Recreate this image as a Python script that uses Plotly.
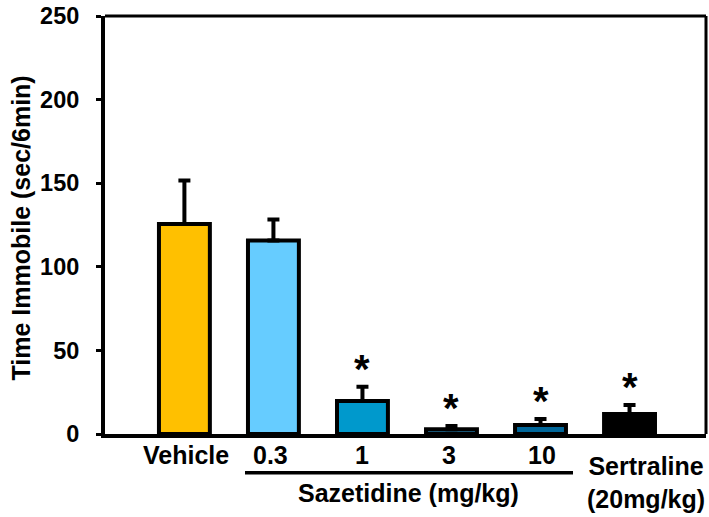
import plotly.graph_objects as go

categories = ["Vehicle", "0.3", "1", "3", "10", "Sertraline"]
means = [125.6, 115.7, 19.8, 2.8, 5.4, 12.0]
sems = [26.0, 12.6, 8.4, 2.0, 3.6, 5.4]
colors = ["#FFC000", "#66CCFF", "#0099CC", "#1F6F9A", "#006699", "#000000"]
significant = [False, False, True, True, True, True]
label_texts = ["Vehicle", "0.3", "1", "3", "10", "Sertraline<br>(20mg/kg)"]
label_offsets = [0.02, -0.03, -0.01, -0.03, 0.02, 0.19]
y_ticks = [0, 50, 100, 150, 200, 250]

W, H = 709, 517
L, R, T, B = 105, 3, 16, 83
pw = W - L - R
ph = H - T - B

def px2py(py):
    return (H - B - py) / ph

def px2px(px):
    return (px - L) / pw

FONT = "Liberation Sans, Arial, sans-serif"
xs = list(range(len(categories)))

fig = go.Figure()
fig.add_trace(go.Bar(
    x=xs, y=means, width=0.572,
    marker=dict(color=colors, line=dict(color="black", width=4)),
    error_y=dict(type="data", array=sems, arrayminus=[0]*len(sems), symmetric=False,
                 color="black", thickness=4, width=6),
    showlegend=False, hoverinfo="skip",
))

annotations = []
for i, (m, s, sig) in enumerate(zip(means, sems, significant)):
    if sig:
        annotations.append(dict(x=i, y=m + s, xref="x", yref="y", text="<b>*</b>",
                                showarrow=False, yanchor="middle", yshift=18,
                                font=dict(family=FONT, size=40, color="black")))
for i, (t, off) in enumerate(zip(label_texts, label_offsets)):
    if i == 5:
        annotations.append(dict(x=i + off, y=px2py(482), xref="x", yref="paper",
                                text="<b>" + t + "</b>", showarrow=False, yanchor="middle",
                                font=dict(family=FONT, size=25, color="black")))
    else:
        annotations.append(dict(x=i + off, y=px2py(455), xref="x", yref="paper",
                                text="<b>" + t + "</b>", showarrow=False, yanchor="middle",
                                font=dict(family=FONT, size=25, color="black")))
annotations.append(dict(x=px2px(408), y=px2py(493), xref="paper", yref="paper",
                        text="<b>Sazetidine (mg/kg)</b>", showarrow=False,
                        yanchor="middle", xanchor="center",
                        font=dict(family=FONT, size=25, color="black")))
annotations.append(dict(x=px2px(20), y=px2py(228.5), xref="paper", yref="paper",
                        text="<b>Time Immobile (sec/6min)</b>", showarrow=False,
                        textangle=-90, yanchor="middle", xanchor="center",
                        font=dict(family=FONT, size=25, color="black")))

shapes = [
    dict(type="line", xref="paper", yref="paper", x0=px2px(245), x1=px2px(573),
         y0=px2py(472.7), y1=px2py(472.7), line=dict(color="black", width=3.5)),
    dict(type="line", xref="paper", yref="paper", x0=0, x1=1, y0=1, y1=1,
         line=dict(color="black", width=3)),
    dict(type="line", xref="paper", yref="paper", x0=1, x1=1, y0=0, y1=1,
         line=dict(color="black", width=3)),
]

fig.update_layout(
    width=W, height=H,
    margin=dict(l=L, r=R, t=T, b=B, pad=0, autoexpand=False),
    paper_bgcolor="white", plot_bgcolor="white",
    xaxis=dict(range=[-0.892, 5.859], showticklabels=False, ticks="", showgrid=False,
               zeroline=False, showline=True, linecolor="black", linewidth=4,
               automargin=False),
    yaxis=dict(range=[0, 250], tickvals=y_ticks, ticks="outside", ticklen=5, tickwidth=3,
               tickcolor="black", showgrid=False, zeroline=False, showline=True,
               linecolor="black", linewidth=4, ticklabelstandoff=12, automargin=False,
               tickfont=dict(family=FONT, size=23.5, color="black", weight="bold")),
    annotations=annotations, shapes=shapes,
    bargap=0.3,
)

fig.write_html(
    "out.html",
    config={"displayModeBar": False},
    post_script="document.body.style.margin='0';document.body.style.overflow='hidden';",
)
